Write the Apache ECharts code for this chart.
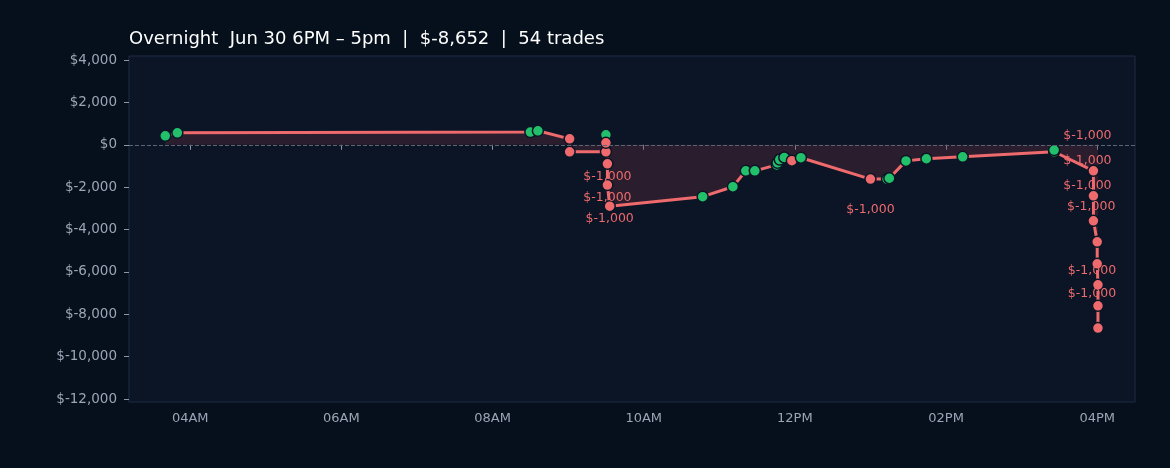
<!DOCTYPE html>
<html><head><meta charset="utf-8">
<script src="https://cdn.jsdelivr.net/npm/echarts@6/dist/echarts.min.js"></script>
<style>html,body{margin:0;background:#06101c}#c{width:1170px;height:468px}</style>
</head><body><div id="c"></div>
<script>
// time in hours of day, cumulative P&L, trade win flag, label text
const times = [3.67,3.83,8.50,8.60,9.02,9.02,9.50,9.50,9.50,9.52,9.52,9.55,10.78,11.18,11.35,11.47,11.76,11.77,11.80,11.86,11.96,12.08,13.00,13.22,13.25,13.47,13.74,14.22,15.43,15.43,15.95,15.95,15.95,16.00,16.00,16.01,16.01,16.01];
const cum   = [425,566,600,660,280,-330,-330,470,90,-900,-1900,-2900,-2450,-1980,-1230,-1230,-950,-850,-700,-600,-750,-610,-1620,-1620,-1580,-760,-660,-570,-330,-250,-1230,-2410,-3590,-4580,-5620,-6610,-7600,-8652];
const win   = [1,1,1,1,0,0,0,1,0,0,0,0,1,1,1,1,1,1,1,1,0,1,0,1,1,1,1,1,1,1,0,0,0,0,0,0,0,0];
const labelsText = ['','','','','','','','','','$-1,000','$-1,000','$-1,000','','','','','','','','','','','$-1,000','','','','','','','','$-1,000','$-1,000','$-1,000','$-1,000','','','$-1,000','$-1,000'];
const labelAbove = [30,31,32,33,36,37];
const xTicks = [4,6,8,10,12,14,16];
const yTicks = [4000,2000,0,-2000,-4000,-6000,-8000,-10000,-12000];
const title = 'Overnight  Jun 30 6PM – 5pm  |  $-8,652  |  54 trades';

const fmtH = h => { const hh = h % 12 === 0 ? 12 : h % 12; return String(hh).padStart(2,'0') + (h < 12 ? 'AM' : 'PM'); };
const fmtY = v => v === 0 ? '$0' : '$' + (v < 0 ? '-' : '') + Math.abs(v).toLocaleString('en-US');
const data = times.map((t,i) => {
  const item = { value:[t,cum[i]], itemStyle:{ color: win[i] ? '#22c06a' : '#ee6a6d' } };
  if (labelsText[i]) {
    const above = labelAbove.includes(i);
    item.label = { show:true, formatter:labelsText[i], position: above ? 'top' : 'bottom',
      distance: above ? 22 : (i === 22 ? 18 : 0), offset: above ? [-6,0] : [0,0] };
  }
  return item;
});
const chart = echarts.init(document.getElementById('c'));
chart.setOption({
  backgroundColor:'#06101c',
  title:{ text:title, left:124, top:25, textStyle:{ color:'#ffffff', fontSize:18, fontWeight:'normal', fontFamily:'DejaVu Sans' } },
  grid:{ left:129, right:35, top:56, bottom:66, show:true, backgroundColor:'#0b1526', borderColor:'#1e2d44' },
  xAxis:{ type:'value', min:3.19, max:16.5,
    axisLine:{ show:false }, splitLine:{ show:false },
    axisTick:{ show:true, customValues:xTicks, lineStyle:{ color:'#8a97a8' } },
    axisLabel:{ customValues:xTicks, formatter:v => fmtH(Math.round(v)), color:'#9aa6b6', fontSize:13, fontFamily:'DejaVu Sans', margin:10 } },
  yAxis:{ type:'value', min:-12140, max:4190,
    axisLine:{ show:false }, splitLine:{ show:false },
    axisTick:{ show:true, customValues:yTicks, lineStyle:{ color:'#8a97a8' } },
    axisLabel:{ customValues:yTicks, formatter:fmtY, color:'#9aa6b6', fontSize:13.5, fontFamily:'DejaVu Sans', margin:12 } },
  series:[{ type:'line', data, symbol:'circle', symbolSize:11,
    lineStyle:{ color:'#ee6a6d', width:3 },
    itemStyle:{ borderColor:'#0b1526', borderWidth:1.5 },
    areaStyle:{ color:'rgba(110,50,65,0.45)', origin:0 },
    label:{ color:'#ee6a6d', fontSize:12.5, fontFamily:'DejaVu Sans' },
    markLine:{ silent:true, symbol:'none', label:{show:false}, lineStyle:{ color:'#5a6474', type:'dashed', width:1 }, data:[{ yAxis:0 }] },
    z:3 }]
});
</script></body></html>
